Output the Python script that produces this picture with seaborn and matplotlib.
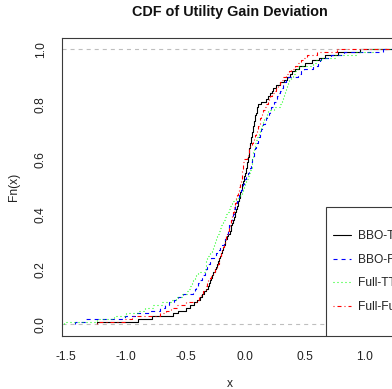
import numpy as np
import pandas as pd
import matplotlib
matplotlib.use("Agg")
import matplotlib.pyplot as plt
from matplotlib.lines import Line2D
from matplotlib.patches import Rectangle
import seaborn as sns

# ---- data ----
series_names = ["BBO-TTT", "BBO-Full", "Full-TTT", "Full-Full"]

bbo_ttt = [-1.24, -0.90, -0.78, -0.605, -0.56, -0.50, -0.46, -0.43, -0.40, -0.379,
           -0.36, -0.345, -0.33, -0.316, -0.30, -0.292, -0.283, -0.276, -0.267, -0.256,
           -0.245, -0.235, -0.226, -0.217, -0.209, -0.201, -0.193, -0.186, -0.18, -0.174,
           -0.167, -0.155, -0.143, -0.131, -0.123, -0.117, -0.11, -0.104, -0.097, -0.09,
           -0.084, -0.077, -0.071, -0.065, -0.059, -0.053, -0.047, -0.042, -0.036, -0.030,
           -0.024, -0.018, -0.013, -0.007, -0.001, 0.005, 0.010, 0.014, 0.017, 0.020,
           0.023, 0.027, 0.030, 0.033, 0.036, 0.040, 0.044, 0.049, 0.053, 0.057,
           0.062, 0.066, 0.070, 0.074, 0.079, 0.084, 0.090, 0.095, 0.101, 0.107,
           0.130, 0.17, 0.19, 0.205, 0.22, 0.23, 0.255, 0.29, 0.32, 0.345,
           0.37, 0.39, 0.42, 0.45, 0.50, 0.56, 0.62, 0.67, 0.78, 0.96]

bbo_full = [-1.425, -1.341, -1.007, -0.92, -0.80, -0.71, -0.67, -0.635, -0.60, -0.56,
            -0.52, -0.435, -0.42, -0.41, -0.395, -0.38, -0.366, -0.353, -0.341, -0.33,
            -0.318, -0.308, -0.298, -0.284, -0.265, -0.245, -0.226, -0.211, -0.196, -0.18,
            -0.168, -0.161, -0.154, -0.147, -0.14, -0.133, -0.126, -0.119, -0.112, -0.105,
            -0.098, -0.092, -0.085, -0.076, -0.068, -0.059, -0.05, -0.041, -0.032, -0.024,
            -0.016, -0.007, 0.001, 0.01, 0.019, 0.028, 0.036, 0.044, 0.05, 0.057,
            0.063, 0.07, 0.077, 0.083, 0.09, 0.096, 0.104, 0.112, 0.119, 0.127,
            0.135, 0.143, 0.150, 0.161, 0.173, 0.184, 0.195, 0.207, 0.219, 0.23,
            0.242, 0.254, 0.266, 0.277, 0.289, 0.30, 0.313, 0.326, 0.339, 0.36,
            0.44, 0.47, 0.495, 0.57, 0.61, 0.625, 0.635, 0.72, 0.83, 1.15]

full_ttt = [-1.52, -1.24, -1.10, -1.0, -0.90, -0.84, -0.77, -0.70, -0.62, -0.58,
            -0.53, -0.49, -0.47, -0.46, -0.447, -0.435, -0.424, -0.412, -0.395, -0.335,
            -0.333, -0.33, -0.327, -0.324, -0.316, -0.298, -0.281, -0.272, -0.264, -0.255,
            -0.246, -0.238, -0.229, -0.22, -0.211, -0.202, -0.194, -0.183, -0.172, -0.16,
            -0.149, -0.137, -0.126, -0.114, -0.103, -0.077, -0.048, -0.027, -0.018, -0.009,
            0.0, 0.008, 0.016, 0.025, 0.034, 0.043, 0.051, 0.056, 0.058, 0.060,
            0.062, 0.064, 0.066, 0.071, 0.078, 0.085, 0.092, 0.099, 0.105, 0.113,
            0.12, 0.128, 0.136, 0.148, 0.16, 0.17, 0.181, 0.192, 0.24, 0.292,
            0.301, 0.31, 0.319, 0.325, 0.331, 0.338, 0.346, 0.354, 0.362, 0.38,
            0.397, 0.415, 0.434, 0.452, 0.57, 0.595, 0.63, 0.75, 0.93, 1.07]

full_full = [-1.24, -1.007, -0.95, -0.714, -0.66, -0.62, -0.57, -0.50, -0.40, -0.385,
             -0.37, -0.352, -0.333, -0.326, -0.318, -0.311, -0.299, -0.287, -0.272, -0.255,
             -0.238, -0.23, -0.224, -0.217, -0.209, -0.201, -0.193, -0.186, -0.179, -0.172,
             -0.165, -0.158, -0.151, -0.144, -0.138, -0.132, -0.126, -0.121, -0.115, -0.109,
             -0.103, -0.098, -0.092, -0.086, -0.080, -0.075, -0.067, -0.062, -0.056, -0.050,
             -0.045, -0.039, -0.034, -0.029, -0.027, -0.025, -0.023, -0.021, -0.019, -0.01,
             0.013, 0.02, 0.027, 0.034, 0.043, 0.055, 0.067, 0.075, 0.083, 0.090,
             0.098, 0.105, 0.113, 0.121, 0.127, 0.133, 0.14, 0.152, 0.163, 0.174,
             0.186, 0.198, 0.21, 0.226, 0.241, 0.257, 0.272, 0.287, 0.303, 0.318,
             0.34, 0.363, 0.386, 0.42, 0.445, 0.468, 0.49, 0.515, 0.60, 0.765]

x_ticks = [-1.5, -1.0, -0.5, 0.0, 0.5, 1.0]
y_ticks = [0.0, 0.2, 0.4, 0.6, 0.8, 1.0]

# ---- style ----
sns.set_style("white")
plt.rcParams["font.family"] = ["Liberation Sans", "DejaVu Sans"]
plt.rcParams["lines.scale_dashes"] = False

FS = 8.64          # 12 px at 100 dpi
LW = 0.8
styles = [
    dict(color="#000000", ls="-"),
    dict(color="#0000FF", ls=(0, (2.9, 2.9))),
    dict(color="#00FF00", ls=(0, (0.72, 2.16))),
    dict(color="#FF0000", ls=(0, (0.72, 2.16, 2.88, 2.16))),
]
datasets = [bbo_ttt, bbo_full, full_ttt, full_full]

fig = plt.figure(figsize=(3.92, 3.89), dpi=100)
ax = fig.add_axes([62 / 392, 53.3 / 389, 336 / 392, 298 / 389])
ax.set_xlim(-1.534, 1.278)
ax.set_ylim(-0.0415, 1.042)

df = pd.DataFrame({"x": np.concatenate(datasets),
                   "grp": np.repeat(series_names, [len(d) for d in datasets])})

for i, (name, st) in enumerate(zip(series_names, styles)):
    sub = df[df["grp"] == name]
    sns.ecdfplot(data=sub, x="x", ax=ax, color=st["color"], linestyle=st["ls"],
                 linewidth=LW, zorder=2 + i * 0.01)
    ax.hlines(1.0, sub["x"].max(), ax.get_xlim()[1], color=st["color"],
              linestyle=st["ls"], linewidth=LW, zorder=2 + i * 0.01)
    if i == 0:
        for h in (0.0, 1.0):
            ax.axhline(h, color="#BEBEBE", linestyle=(0, (2.9, 2.9)), linewidth=LW,
                       zorder=2.005)

ax.set_xlim(-1.534, 1.278)
ax.set_ylim(-0.0415, 1.042)
ax.set_xticks(x_ticks)
ax.set_xticklabels([f"{v:.1f}" for v in x_ticks])
ax.set_yticks(y_ticks)
ax.set_yticklabels([f"{v:.1f}" for v in y_ticks], rotation=90, va="center")

for sp in ax.spines.values():
    sp.set_color("#3a3a3a")
    sp.set_linewidth(LW)
ax.tick_params(axis="both", direction="out", length=4.3, width=LW, color="#3a3a3a",
               labelsize=FS, labelcolor="#222222")
ax.tick_params(axis="x", pad=6.8)
ax.tick_params(axis="y", pad=6.5)

ax.set_xlabel("x", fontsize=FS, color="#222222", labelpad=10.5)
ax.set_ylabel("Fn(x)", fontsize=FS, color="#222222", labelpad=10.5)
ax.set_title("CDF of Utility Gain Deviation", fontsize=10.4, fontweight="bold",
             color="#111111", pad=15.5)

# legend box (bottom right, extends beyond the visible area)
box_left = (325.7 - 62) / 336
box_top = (335.7 - 207) / 298
ax.add_patch(Rectangle((box_left, 0), 0.5, box_top, transform=ax.transAxes,
                       facecolor="white", edgecolor="#3a3a3a", linewidth=LW,
                       zorder=3, clip_on=True))
handles = [Line2D([], [], color=st["color"], linestyle=st["ls"], linewidth=LW)
           for st in styles]
leg = ax.legend(handles, series_names, loc="center left",
                bbox_to_anchor=((333 - 62) / 336, (335.7 - 271.6) / 298),
                frameon=False, fontsize=FS, handlelength=1.5, handletextpad=0.6,
                labelspacing=0.98, borderpad=0, borderaxespad=0)
leg.set_zorder(5)
for t in leg.get_texts():
    t.set_color("#222222")

fig.savefig("out.png", dpi=100)
